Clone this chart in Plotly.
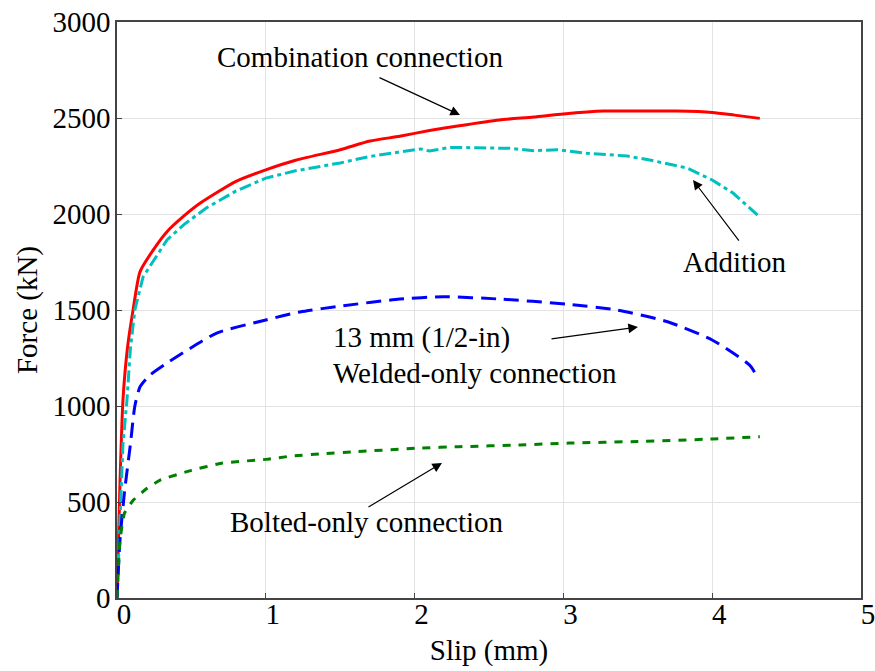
import plotly.graph_objects as go

# ---- data ----
comb_x = [0, 0.02, 0.04, 0.07, 0.108, 0.155, 0.25, 0.336, 0.45, 0.56, 0.8, 1.0, 1.2, 1.5, 1.7, 1.9,
          2.1, 2.3, 2.57, 2.8, 3.0, 3.27, 3.5, 3.76, 4.0, 4.15, 4.32]
comb_y = [0, 600, 1030, 1300, 1500, 1700, 1820, 1908, 1990, 2057, 2170, 2230, 2280, 2335, 2380, 2405,
          2435, 2460, 2490, 2505, 2521, 2536, 2537, 2536, 2529, 2515, 2498]

add_x = [0, 0.02, 0.04, 0.067, 0.09, 0.12, 0.175, 0.336, 0.45, 0.6, 0.8, 1.0, 1.2, 1.5, 1.7, 1.9,
         2.04, 2.1, 2.24, 2.42, 2.64, 2.8, 2.96, 3.16, 3.43, 3.58, 3.83, 4.0, 4.14, 4.32]
add_y = [0, 450, 800, 1031, 1300, 1500, 1672, 1865, 1945, 2031, 2120, 2187, 2225, 2266, 2300, 2323,
         2339, 2328, 2347, 2345, 2342, 2330, 2335, 2316, 2302, 2281, 2240, 2177, 2109, 1984]

weld_x = [0, 0.02, 0.05, 0.09, 0.12, 0.155, 0.22, 0.336, 0.47, 0.67, 1.0, 1.23, 1.52, 1.9, 2.19,
          2.57, 3.02, 3.36, 3.7, 4.0, 4.25, 4.3]
weld_y = [0, 300, 550, 800, 1000, 1100, 1160, 1224, 1290, 1380, 1448, 1490, 1522, 1557, 1569,
          1557, 1531, 1500, 1439, 1344, 1214, 1156]

bolt_x = [0, 0.02, 0.05, 0.11, 0.2, 0.29, 0.5, 0.71, 1.0, 1.18, 1.36, 1.6, 2.04, 2.3, 2.71, 3.04,
          3.5, 4.0, 4.32]
bolt_y = [0, 300, 442, 510, 570, 614, 665, 703, 722, 740, 750, 762, 781, 788, 797, 807,
          815, 828, 840]

x_ticks = [0, 1, 2, 3, 4, 5]
y_ticks = [0, 500, 1000, 1500, 2000, 2500, 3000]

FONT = "Liberation Serif, Times New Roman, serif"
FS = 29

fig = go.Figure()
fig.add_trace(go.Scatter(x=comb_x, y=comb_y, mode="lines", name="Combination connection",
                         line=dict(color="#ff0000", width=3, shape="spline", smoothing=0.6)))
fig.add_trace(go.Scatter(x=add_x, y=add_y, mode="lines", name="Addition",
                         line=dict(color="#00bfbf", width=3, dash="12px,4px,4px,4px")))
fig.add_trace(go.Scatter(x=weld_x, y=weld_y, mode="lines", name="Welded-only connection",
                         line=dict(color="#0000ff", width=3, dash="15px,8px", shape="spline", smoothing=0.6)))
fig.add_trace(go.Scatter(x=bolt_x, y=bolt_y, mode="lines", name="Bolted-only connection",
                         line=dict(color="#008000", width=3, dash="8px,8px", shape="spline", smoothing=0.4)))

txt = dict(family=FONT, size=FS, color="black")
texts = [
    ("Combination connection", 1.633, 2818, "center"),
    ("Addition", 4.153, 1750, "center"),
    ("13 mm (1/2-in)", 1.44, 1359, "left"),
    ("Welded-only connection", 1.44, 1172, "left"),
    ("Bolted-only connection", 1.68, 396, "center"),
]
for t, x, y, anc in texts:
    fig.add_annotation(x=x, y=y, text=t, showarrow=False, xanchor=anc, yanchor="middle", font=txt)

arrows = [
    (1.754, 2714, 2.305, 2516),
    (4.187, 1854, 3.871, 2177),
    (2.910, 1349, 3.501, 1411),
    (1.680, 469, 2.184, 703),
]
for ax, ay, x, y in arrows:
    fig.add_annotation(x=x, y=y, ax=ax, ay=ay, xref="x", yref="y", axref="x", ayref="y",
                       text="", showarrow=True, arrowhead=2, arrowsize=1.6, arrowwidth=1.2,
                       arrowcolor="black", standoff=0, startstandoff=0)

axis_common = dict(showline=True, linecolor="#444444", linewidth=1.5, mirror=True,
                   showgrid=True, gridcolor="#e3e3e3", gridwidth=1,
                   ticks="inside", ticklen=5, tickcolor="#444444", automargin=False,
                   ticklabeloverflow="allow",
                   tickfont=dict(family=FONT, size=FS, color="black"), zeroline=False)

fig.update_xaxes(range=[0, 5], tickvals=x_ticks, ticktext=[str(v) for v in x_ticks],
                 title=dict(text="Slip (mm)", font=dict(family=FONT, size=FS, color="black"), standoff=11),
                 ticklabelshift=7, ticklabelstandoff=-11, **axis_common)
fig.update_yaxes(range=[0, 3000], tickvals=y_ticks, ticktext=[str(v) for v in y_ticks],
                 title=dict(text="Force (kN)", font=dict(family=FONT, size=FS, color="black"), standoff=6),
                 ticklabelstandoff=-1, **axis_common)

fig.update_layout(width=875, height=671, margin=dict(l=117, r=14, t=22, b=73, autoexpand=False),
                  plot_bgcolor="white", paper_bgcolor="white", showlegend=False)

fig.write_html("out.html")
